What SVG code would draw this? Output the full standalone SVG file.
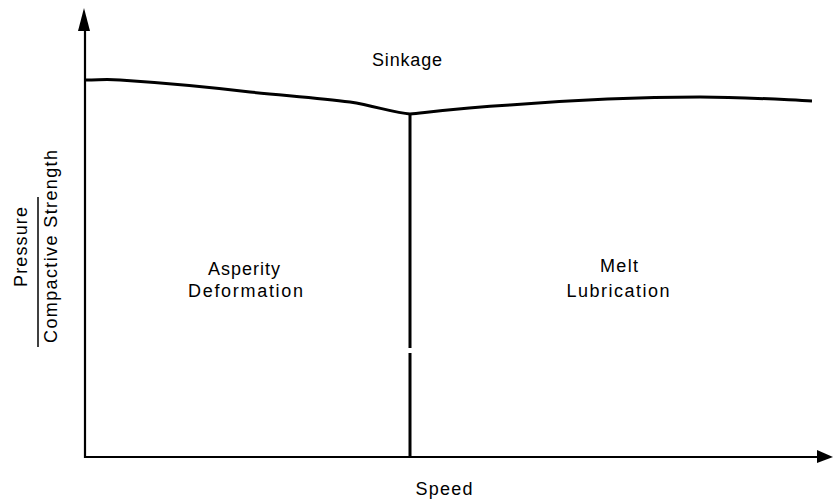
<svg xmlns="http://www.w3.org/2000/svg" width="833" height="502" viewBox="0 0 833 502">
<style>
.t{font-family:"Liberation Sans",Arial,sans-serif;font-size:18px;fill:#000;text-anchor:middle}
.ax{stroke:#000;stroke-width:2.2;fill:none}
.ln{stroke:#000;stroke-width:3;fill:none;stroke-linejoin:round}
</style>
<defs>
<marker id="ah" viewBox="0 0 10 10" refX="10" refY="5" markerWidth="10" markerHeight="10" markerUnits="userSpaceOnUse" orient="auto"><path d="M0,0 L10,5 L0,10 Z" fill="#000"/></marker>
</defs>
<g id="connectors">
<path class="ax" d="M85,458 L85,31"/>
<path d="M84,8 L78,31 L90,31 Z" fill="#000"/>
<path class="ax" d="M84,457 L817,457"/>
<path d="M833,457 L817,450 L817,463 Z" fill="#000"/>
<path class="ln" d="M86,80 C100,80 105,79 120,80 C150,82 200,86 250,92 C290,96 320,98 350,102 C375,106 395,113 410,114 C430,112 460,108 510,105 C560,101 620,97 700,97 C740,97 770,99 812,101"/>
<path class="ln" d="M410,114 L410,348 M410,353 L410,458"/>
<path stroke="#000" stroke-width="1.5" d="M38,197 L38,347"/>
</g>
<g id="sinkage"><text class="t" x="407" y="66" textLength="70">Sinkage</text></g>
<g id="asperity"><text class="t" x="244" y="275" textLength="72">Asperity</text><text class="t" x="245.5" y="297" textLength="115">Deformation</text></g>
<g id="melt"><text class="t" x="619" y="272" textLength="38">Melt</text><text class="t" x="618" y="297" textLength="103">Lubrication</text></g>
<g id="xlabel"><text class="t" x="444" y="495" textLength="57">Speed</text></g>
<g id="ylabel">
<text class="t" transform="translate(27,247) rotate(-90)" textLength="80">Pressure</text>
<text class="t" transform="translate(57,246.5) rotate(-90)" textLength="193">Compactive Strength</text>
</g>
</svg>
